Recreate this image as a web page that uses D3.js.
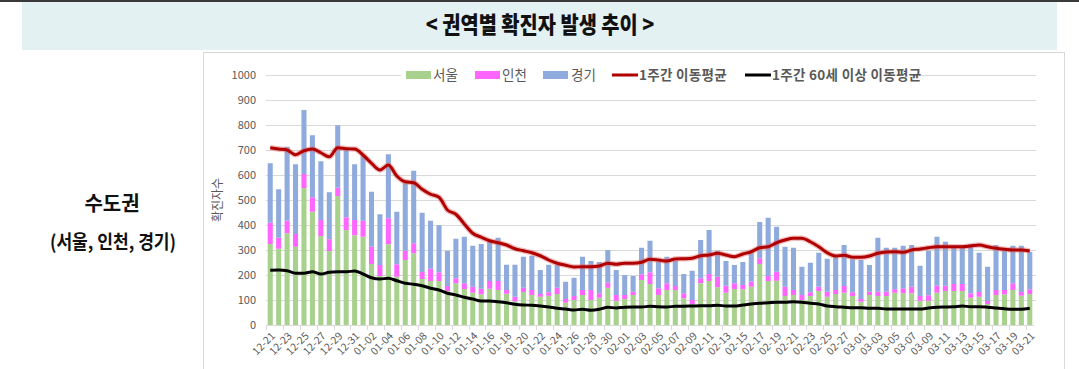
<!DOCTYPE html>
<html>
<head>
<meta charset="utf-8">
<script src="https://cdn.jsdelivr.net/npm/d3@7/dist/d3.min.js"></script>
<style>
  body { margin: 0; background: #fff; }
  svg { display: block; font-family: "Noto Sans CJK KR", "Noto Sans", sans-serif; }
</style>
</head>
<body>
<svg id="chart" width="1079" height="369"></svg>
<script>
// daily categories 12-21 ~ 03-21
var dates = [
  "12-21","12-22","12-23","12-24","12-25","12-26","12-27","12-28","12-29","12-30","12-31",
  "01-01","01-02","01-03","01-04","01-05","01-06","01-07","01-08","01-09","01-10",
  "01-11","01-12","01-13","01-14","01-15","01-16","01-17","01-18","01-19","01-20",
  "01-21","01-22","01-23","01-24","01-25","01-26","01-27","01-28","01-29","01-30","01-31",
  "02-01","02-02","02-03","02-04","02-05","02-06","02-07","02-08","02-09","02-10",
  "02-11","02-12","02-13","02-14","02-15","02-16","02-17","02-18","02-19","02-20",
  "02-21","02-22","02-23","02-24","02-25","02-26","02-27","02-28",
  "03-01","03-02","03-03","03-04","03-05","03-06","03-07","03-08","03-09","03-10",
  "03-11","03-12","03-13","03-14","03-15","03-16","03-17","03-18","03-19","03-20","03-21"
];

var seoul = [
  324, 305, 367, 313, 548, 453, 356, 296, 516, 380, 359, 353, 244, 196, 323, 193, 260, 287,
  184, 176, 176, 136, 167, 144, 129, 123, 145, 140, 125, 95, 132, 120, 113, 117, 124, 89, 100,
  120, 100, 109, 149, 97, 104, 120, 180, 164, 120, 140, 140, 107, 84, 167, 176, 151, 129,
  144, 143, 153, 244, 176, 177, 116, 120, 100, 116, 136, 113, 124, 129, 116, 93, 120, 116,
  116, 129, 127, 127, 97, 97, 129, 136, 136, 136, 109, 113, 84, 120, 123, 140, 117, 124
];

var incheon = [
  85, 44, 50, 51, 56, 58, 64, 47, 33, 51, 61, 64, 69, 44, 104, 50, 37, 40,
  28, 49, 35, 20, 20, 23, 24, 22, 31, 36, 15, 18, 17, 20, 11, 14, 25, 15, 16,
  20, 40, 18, 20, 23, 16, 13, 23, 47, 27, 27, 16, 20, 16, 20, 28, 42, 28,
  23, 17, 20, 23, 20, 36, 37, 20, 20, 15, 17, 20, 16, 27, 15, 11, 13, 17,
  17, 14, 20, 26, 19, 22, 28, 21, 28, 28, 18, 19, 12, 20, 17, 27, 15, 19
];

var gyeonggi = [
  238, 194, 296, 279, 256, 248, 235, 188, 250, 272, 223, 259, 220, 203, 256, 210, 270, 290,
  237, 192, 188, 141, 158, 186, 164, 179, 159, 173, 101, 128, 124, 137, 96, 110, 92, 69, 73,
  133, 116, 125, 131, 100, 80, 63, 106, 126, 106, 106, 100, 77, 117, 153, 176, 104, 99,
  73, 92, 114, 145, 233, 180, 160, 169, 113, 118, 136, 132, 133, 164, 132, 156, 107, 216,
  176, 166, 170, 167, 121, 178, 196, 176, 153, 153, 197, 157, 137, 180, 157, 150, 185, 150
];

var weekAvg = [
  709, 704, 700, 681, 697, 704, 689, 673, 709, 705, 704, 680, 647, 620, 640, 596, 573, 569,
  543, 523, 511, 460, 443, 404, 367, 351, 337, 329, 320, 305, 297, 289, 277, 260, 247, 239, 232,
  233, 233, 236, 247, 243, 247, 247, 251, 263, 260, 256, 264, 265, 267, 277, 280, 287, 280,
  273, 284, 293, 309, 313, 329, 340, 347, 347, 333, 313, 289, 276, 279, 271, 271, 276, 287,
  292, 293, 291, 300, 304, 309, 313, 313, 313, 313, 316, 320, 313, 307, 303, 300, 300, 296
];

var weekAvg60 = [
  219, 220, 217, 207, 207, 213, 204, 211, 213, 213, 216, 204, 189, 184, 187, 177, 167, 163,
  157, 147, 140, 127, 120, 111, 104, 96, 96, 93, 89, 83, 80, 79, 76, 72, 67, 64, 60,
  63, 59, 63, 71, 68, 71, 72, 72, 75, 73, 72, 75, 75, 76, 77, 77, 79, 76,
  76, 80, 84, 87, 89, 91, 91, 93, 91, 87, 84, 76, 73, 71, 69, 69, 67, 67,
  64, 64, 64, 64, 64, 68, 71, 72, 73, 76, 73, 73, 71, 68, 65, 63, 63, 67
];

var yTicks = [0, 100, 200, 300, 400, 500, 600, 700, 800, 900, 1000];
var barKeys = ["서울", "인천", "경기"];
var barColors = ["#a9d18e", "#ff66ff", "#8faadc"];
var lineNames = ["1주간 이동평균", "1주간 60세 이상 이동평균"];

var svg = d3.select("#chart");

// title band
svg.append("rect").attr("x", 0).attr("y", 0).attr("width", 1079).attr("height", 2).attr("fill", "#3a3a3a");
svg.append("rect").attr("x", 22).attr("y", 2).attr("width", 1035).attr("height", 48).attr("fill", "#e3f1f3");
svg.append("text")
  .attr("transform", "translate(540,33) scale(0.86,1)")
  .attr("text-anchor", "middle")
  .attr("font-size", 23).attr("font-weight", 900).attr("fill", "#111")
  .text("< 권역별 확진자 발생 추이 >");

// left label
svg.append("text").attr("x", 112).attr("y", 211).attr("text-anchor", "middle")
  .attr("font-size", 20).attr("font-weight", 700).attr("fill", "#111").text("수도권");
svg.append("text").attr("transform", "translate(113,249) scale(0.9,1)").attr("text-anchor", "middle")
  .attr("font-size", 19).attr("font-weight", 700).attr("fill", "#111").text("(서울, 인천, 경기)");

// chart frame
svg.append("rect").attr("x", 203.5).attr("y", 52.5).attr("width", 861).attr("height", 330)
  .attr("fill", "#fff").attr("stroke", "#d9d9d9");

var plotL = 266, plotR = 1034, plotT = 75, plotB = 325;

var x = d3.scaleBand().domain(dates).range([plotL, plotR]).paddingInner(0.4).paddingOuter(0.2);
var y = d3.scaleLinear().domain([0, 1000]).range([plotB, plotT]);

// gridlines
svg.append("g").selectAll("line").data(yTicks.slice(1)).join("line")
  .attr("x1", plotL).attr("x2", plotR + 2)
  .attr("y1", function(d) { return Math.round(y(d)) + 0.5; })
  .attr("y2", function(d) { return Math.round(y(d)) + 0.5; })
  .attr("stroke", "#d9d9d9").attr("stroke-width", 1);

// y axis
var yAxis = svg.append("g").attr("transform", "translate(256,0)")
  .call(d3.axisLeft(y).tickValues(yTicks).tickFormat(d3.format("d")).tickSize(0).tickPadding(0));
yAxis.select(".domain").remove();
yAxis.selectAll("text").attr("font-size", 11).attr("fill", "#595959")
  .attr("font-family", "\"Noto Sans CJK KR\", sans-serif");

svg.append("text").attr("transform", "translate(222,200) rotate(-90)")
  .attr("text-anchor", "middle").attr("font-size", 12).attr("fill", "#595959").text("확진자수");

// stacked bars
var rows = dates.map(function(d, i) {
  return { date: d, "서울": seoul[i], "인천": incheon[i], "경기": gyeonggi[i] };
});
var stacked = d3.stack().keys(barKeys)(rows);

svg.append("g").selectAll("g").data(stacked).join("g")
  .attr("fill", function(d, i) { return barColors[i]; })
  .selectAll("rect").data(function(d) { return d; }).join("rect")
  .attr("x", function(d) { return x(d.data.date); })
  .attr("width", x.bandwidth())
  .attr("y", function(d) { return y(d[1]); })
  .attr("height", function(d) { return y(d[0]) - y(d[1]); });

// x axis line + ticks between categories every 2 days
svg.append("line").attr("x1", plotL).attr("x2", plotR).attr("y1", plotB + 0.5).attr("y2", plotB + 0.5)
  .attr("stroke", "#d9d9d9");
var tickDates = dates.filter(function(d, i) { return i % 2 === 0; });
svg.append("g").selectAll("line").data(tickDates).join("line")
  .attr("x1", function(d) { return Math.round(x(d) - x.step() * 0.2) + 0.5; })
  .attr("x2", function(d) { return Math.round(x(d) - x.step() * 0.2) + 0.5; })
  .attr("y1", plotB).attr("y2", plotB + 5)
  .attr("stroke", "#d9d9d9");

var xAxis = svg.append("g").attr("transform", "translate(0," + plotB + ")")
  .call(d3.axisBottom(x).tickValues(tickDates).tickSize(0).tickPadding(0));
xAxis.select(".domain").remove();
xAxis.selectAll("text")
  .attr("font-size", 10.5).attr("fill", "#595959")
  .attr("font-family", "\"Noto Sans CJK KR\", sans-serif")
  .attr("text-anchor", "end")
  .attr("dy", "0.35em")
  .attr("transform", "translate(3,9) rotate(-45)");

// lines
var line = d3.line()
  .x(function(d, i) { return x(dates[i]) + x.bandwidth() / 2; })
  .y(function(d) { return y(d); })
  .curve(d3.curveMonotoneX);

svg.append("path").datum(weekAvg).attr("d", line).attr("fill", "none")
  .attr("stroke", "#e06a6a").attr("stroke-opacity", 0.45).attr("stroke-width", 5.5);
svg.append("path").datum(weekAvg).attr("d", line).attr("fill", "none")
  .attr("stroke", "#b00000").attr("stroke-width", 3);
svg.append("path").datum(weekAvg60).attr("d", line).attr("fill", "none")
  .attr("stroke", "#000").attr("stroke-width", 3);

// legend
var legend = svg.append("g");
legend.append("rect").attr("x", 401).attr("y", 67).attr("width", 518).attr("height", 16).attr("fill", "#fff");
var swatchX = [406, 475, 543];
var textX = [433, 502, 571];
barKeys.forEach(function(k, i) {
  legend.append("rect").attr("x", swatchX[i]).attr("y", 71).attr("width", 25).attr("height", 8).attr("fill", barColors[i]);
  legend.append("text").attr("x", textX[i]).attr("y", 80).attr("font-size", 13.5).attr("fill", "#595959").text(k);
});
var lineX = [612, 745];
var lineColors = ["#b00000", "#000"];
lineNames.forEach(function(n, i) {
  legend.append("line").attr("x1", lineX[i]).attr("x2", lineX[i] + 26).attr("y1", 75).attr("y2", 75)
    .attr("stroke", lineColors[i]).attr("stroke-width", 3);
  legend.append("text").attr("x", lineX[i] + 27).attr("y", 80).attr("font-size", 13.5)
    .attr("font-weight", 700).attr("letter-spacing", 0.3).attr("fill", "#595959").text(n);
});
</script>
</body>
</html>
